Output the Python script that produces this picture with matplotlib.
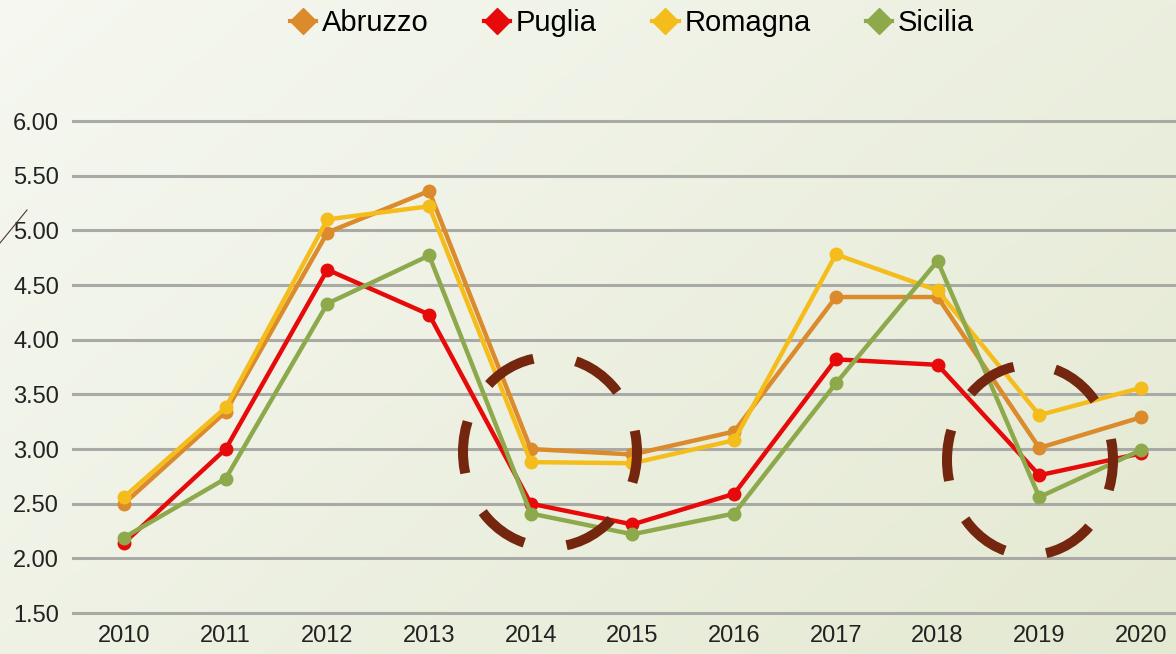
import numpy as np
import matplotlib
matplotlib.use("Agg")
from matplotlib import pyplot as plt
from matplotlib.patches import Ellipse
from matplotlib.lines import Line2D

# data
years = [2010, 2011, 2012, 2013, 2014, 2015, 2016, 2017, 2018, 2019, 2020]
abruzzo = [2.50, 3.34, 4.98, 5.36, 3.00, 2.95, 3.16, 4.39, 4.39, 3.01, 3.29]
puglia = [2.14, 3.00, 4.64, 4.23, 2.50, 2.31, 2.59, 3.82, 3.77, 2.76, 2.96]
romagna = [2.56, 3.38, 5.10, 5.22, 2.88, 2.87, 3.08, 4.78, 4.45, 3.31, 3.56]
sicilia = [2.19, 2.73, 4.33, 4.77, 2.41, 2.22, 2.41, 3.60, 4.72, 2.56, 2.99]
y_ticks = [1.5, 2.0, 2.5, 3.0, 3.5, 4.0, 4.5, 5.0, 5.5, 6.0]

series = [("Abruzzo", abruzzo, "#DB8A2C"),
          ("Puglia", puglia, "#E60A0A"),
          ("Romagna", romagna, "#F5BD1C"),
          ("Sicilia", sicilia, "#8EA84C")]

plt.rcParams['font.family'] = ['Liberation Sans', 'DejaVu Sans']

W, H = 1176, 654
fig = plt.figure(figsize=(W / 100, H / 100), dpi=100)

# background gradient
bg = fig.add_axes([0, 0, 1, 1], zorder=0)
gx, gy = np.meshgrid(np.linspace(0, 1, 200), np.linspace(0, 1, 120))
t = 0.6 * gx + 0.4 * gy
c0 = np.array([0xF6, 0xF8, 0xF1]) / 255.0
c1 = np.array([0xE4, 0xE9, 0xD2]) / 255.0
img = c0[None, None, :] * (1 - t[..., None]) + c1[None, None, :] * t[..., None]
bg.imshow(img, aspect='auto', extent=[0, 1, 0, 1], origin='upper')
bg.set_axis_off()

# main chart axes (pixel geometry of the reference)
left, right = 73, 1176
bottom, top = 613, 121
ax = fig.add_axes([left / W, (H - bottom) / H, (right - left) / W, (bottom - top) / H], zorder=1)
ax.patch.set_alpha(0)
step = 101.7
ax.set_xlim(2010 - (124 - left) / step, 2010 + (right - 124) / step)
ax.set_ylim(1.5, 6.0)

for yv in y_ticks:
    ax.axhline(yv, color="#A9A9A6", lw=2.2, zorder=1, clip_on=False)

for name, vals, col in series:
    ax.plot(years, vals, color=col, lw=3.2, marker='o', ms=9,
            markeredgecolor=col, zorder=3, clip_on=False)

ax.set_xticks(years)
ax.set_xticklabels([str(y) for y in years])
ax.set_yticks(y_ticks)
ax.set_yticklabels(["%.2f" % v for v in y_ticks])
ax.tick_params(length=0, labelsize=17, colors="#222222")
ax.tick_params(axis='y', pad=10)
ax.tick_params(axis='x', pad=9)
for s in ax.spines.values():
    s.set_visible(False)

# legend
handles = [Line2D([0], [0], color=col, lw=3, marker='D', ms=13, markeredgecolor=col)
           for _, _, col in series]
fig.legend(handles, [s[0] for s in series], loc='center', bbox_to_anchor=(632 / W, 1 - 23 / H),
           ncol=4, frameon=False, fontsize=21, handlelength=0.9, handletextpad=0.2,
           columnspacing=1.9)

# overlay in pixel coordinates for the dashed annotation ellipses
ov = fig.add_axes([0, 0, 1, 1], zorder=2)
ov.set_xlim(0, W)
ov.set_ylim(H, 0)
ov.set_axis_off()
ov.patch.set_alpha(0)
lw = 7.2
for cx, cy, rx, ry in [(550, 452, 87, 95), (1030, 460, 83, 95)]:
    h = ((rx - ry) / (rx + ry)) ** 2
    perim = np.pi * (rx + ry) * (1 + 3 * h / (10 + np.sqrt(4 - 3 * h)))  # px
    period = perim * 0.72 / 6 / lw  # in linewidth units, 6 dashes around
    on, off = 0.55 * period, 0.45 * period
    ov.add_patch(Ellipse((cx, cy), 2 * rx, 2 * ry, fill=False, edgecolor="#74260E",
                         lw=lw, linestyle=(period - on / 2, (on, off))))
ov.plot([0, 27], [243, 210], color="#4A3A2A", lw=0.8)

fig.savefig("out.png", dpi=100)
